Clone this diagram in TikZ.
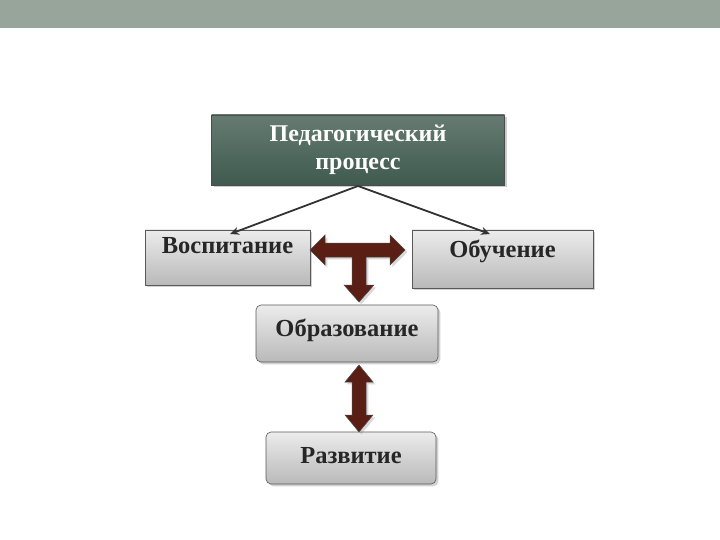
\documentclass[tikz,border=0pt]{standalone}
\usepackage{fontspec}
\setmainfont{Liberation Serif}
\usetikzlibrary{shadows,arrows.meta}
\definecolor{bar}{HTML}{97A59A}
\definecolor{dgreen}{HTML}{3F5A4F}
\definecolor{brn}{HTML}{5A1E14}
\begin{document}
\begin{tikzpicture}[x=1pt,y=-1pt,
  gbox/.style={draw=gray!70!black,line width=0.6pt,top color=gray!15,bottom color=gray!55,drop shadow={opacity=0.35},font=\bfseries\fontsize{24.5}{26}\selectfont,text=black!85},
  ln/.style={draw=black!80,line width=1.8pt,-{Stealth[length=9pt,width=8pt]}},
  barrow/.style={fill=brn,draw=black!70,line width=0.5pt,drop shadow={opacity=0.3}}]
\useasboundingbox (0,0) rectangle (720,540);
\fill[white] (0,0) rectangle (720,540);
\fill[bar] (0,0) rectangle (720,28);
\node[draw=gray!60!black,top color=dgreen!80,bottom color=dgreen,drop shadow={opacity=0.4},minimum width=293pt,minimum height=70pt,align=center,text=white,font=\bfseries\fontsize{24}{28}\selectfont] (top) at (358,150) {Педагогический\\процесс};
\node[gbox,minimum width=165pt,minimum height=55pt,text depth=24pt] (vos) at (227.5,257.5) {Воспитание};
\node[gbox,minimum width=181pt,minimum height=58pt,text depth=20pt] (obu) at (502.5,259) {Обучение};
\node[gbox,rounded corners=5pt,minimum width=182pt,minimum height=57pt,text depth=12pt] (obr) at (347,333.5) {Образование};
\node[gbox,rounded corners=5pt,minimum width=170pt,minimum height=52pt,text depth=6pt] (raz) at (351,458) {Развитие};
\coordinate (c) at (358,186);
\draw[ln] (c) -- (230,234);
\draw[ln] (c) -- (490,234);
% T arrow
\draw[barrow] (310,250) -- (325,235) -- (325,243) -- (390,243) -- (390,235) -- (405,250) -- (390,265) -- (390,257) -- (366,257) -- (366,285) -- (374,285) -- (359,302) -- (344,285) -- (352,285) -- (352,257) -- (325,257) -- (325,265) -- cycle;
% vertical double arrow
\draw[barrow] (359,365) -- (373,382) -- (366,382) -- (366,415) -- (373,415) -- (359,432) -- (345,415) -- (352,415) -- (352,382) -- (345,382) -- cycle;
\end{tikzpicture}
\end{document}
